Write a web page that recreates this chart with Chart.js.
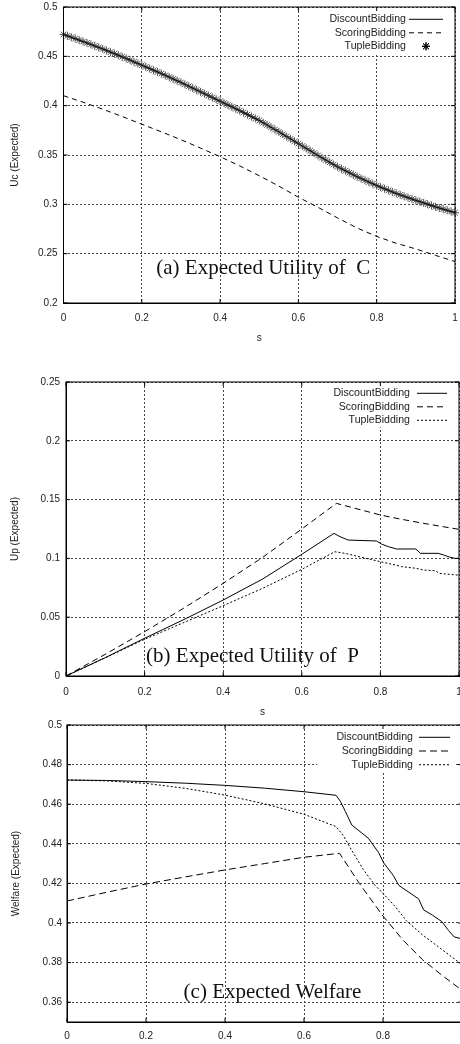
<!DOCTYPE html>
<html>
<head>
<meta charset="utf-8">
<script src="https://cdn.jsdelivr.net/npm/chart.js@4.4.1/dist/chart.umd.min.js"></script>
<style>
  html, body { margin: 0; padding: 0; background: #fff; }
  body { width: 460px; height: 1044px; overflow: hidden; position: relative; }
  canvas { position: absolute; left: 0; }
</style>
</head>
<body>
<canvas id="chartUc" width="460" height="345" style="top:0"></canvas>
<canvas id="chartUp" width="460" height="375" style="top:345px"></canvas>
<canvas id="chartW" width="462" height="324" style="top:720px"></canvas>
<script>
// tick labels
const sTicks = [0, 0.2, 0.4, 0.6, 0.8, 1];
const ucTicks = [0.2, 0.25, 0.3, 0.35, 0.4, 0.45, 0.5];
const upTicks = [0, 0.05, 0.1, 0.15, 0.2, 0.25];
const wTicks = [0.36, 0.38, 0.4, 0.42, 0.44, 0.46, 0.48, 0.5];

const seriesNames = ['DiscountBidding', 'ScoringBidding', 'TupleBidding'];

// (a) expected utility of C
const ucS = [0, 0.05, 0.1, 0.15, 0.2, 0.25, 0.3, 0.35, 0.4, 0.45, 0.5, 0.55, 0.6, 0.65, 0.7, 0.75, 0.8, 0.85, 0.9, 0.95, 1];
const ucDiscount = [0.4722, 0.4650, 0.4575, 0.4495, 0.4410, 0.4325, 0.4235, 0.4140, 0.4045, 0.3950, 0.3850, 0.3735, 0.3615, 0.3495, 0.3380, 0.3280, 0.3190, 0.3110, 0.3040, 0.2975, 0.2915];
const ucScoring = [0.4101, 0.4035, 0.3965, 0.3890, 0.3812, 0.3735, 0.3655, 0.3570, 0.3483, 0.3390, 0.3290, 0.3185, 0.3072, 0.2970, 0.2862, 0.2760, 0.2675, 0.2605, 0.2548, 0.2483, 0.2420];
const ucTupleS = [
  0.00, 0.01, 0.02, 0.03, 0.04, 0.05, 0.06, 0.07, 0.08, 0.09,
  0.10, 0.11, 0.12, 0.13, 0.14, 0.15, 0.16, 0.17, 0.18, 0.19,
  0.20, 0.21, 0.22, 0.23, 0.24, 0.25, 0.26, 0.27, 0.28, 0.29,
  0.30, 0.31, 0.32, 0.33, 0.34, 0.35, 0.36, 0.37, 0.38, 0.39,
  0.40, 0.41, 0.42, 0.43, 0.44, 0.45, 0.46, 0.47, 0.48, 0.49,
  0.50, 0.51, 0.52, 0.53, 0.54, 0.55, 0.56, 0.57, 0.58, 0.59,
  0.60, 0.61, 0.62, 0.63, 0.64, 0.65, 0.66, 0.67, 0.68, 0.69,
  0.70, 0.71, 0.72, 0.73, 0.74, 0.75, 0.76, 0.77, 0.78, 0.79,
  0.80, 0.81, 0.82, 0.83, 0.84, 0.85, 0.86, 0.87, 0.88, 0.89,
  0.90, 0.91, 0.92, 0.93, 0.94, 0.95, 0.96, 0.97, 0.98, 0.99, 1.00];
const ucTuple = [
  0.4722, 0.4708, 0.4694, 0.4680, 0.4665, 0.4650, 0.4636, 0.4621, 0.4606, 0.4590,
  0.4575, 0.4559, 0.4543, 0.4527, 0.4511, 0.4495, 0.4478, 0.4461, 0.4444, 0.4427,
  0.4410, 0.4393, 0.4376, 0.4359, 0.4342, 0.4325, 0.4307, 0.4289, 0.4271, 0.4253,
  0.4235, 0.4216, 0.4197, 0.4178, 0.4159, 0.4140, 0.4121, 0.4102, 0.4083, 0.4064,
  0.4045, 0.4026, 0.4007, 0.3988, 0.3969, 0.3950, 0.3930, 0.3910, 0.3890, 0.3870,
  0.3850, 0.3827, 0.3804, 0.3781, 0.3758, 0.3735, 0.3711, 0.3687, 0.3663, 0.3639,
  0.3615, 0.3591, 0.3567, 0.3543, 0.3519, 0.3495, 0.3472, 0.3449, 0.3426, 0.3403,
  0.3380, 0.3360, 0.3340, 0.3320, 0.3300, 0.3280, 0.3262, 0.3244, 0.3226, 0.3208,
  0.3190, 0.3174, 0.3158, 0.3142, 0.3126, 0.3110, 0.3096, 0.3082, 0.3068, 0.3054,
  0.3040, 0.3027, 0.3014, 0.3001, 0.2988, 0.2975, 0.2963, 0.2951, 0.2939, 0.2927, 0.2915];

// (b) expected utility of P
const upDiscountS = [0, 0.1, 0.2, 0.3, 0.4, 0.5, 0.6, 0.682, 0.697, 0.718, 0.79, 0.803, 0.82, 0.841, 0.89, 0.902, 0.947, 0.96, 0.975, 0.99, 1.0];
const upDiscount = [0, 0.0156, 0.0321, 0.0480, 0.0646, 0.0824, 0.1035, 0.1213, 0.1185, 0.1156, 0.1148, 0.1122, 0.1100, 0.1080, 0.1080, 0.1043, 0.1043, 0.1030, 0.1012, 0.1000, 0.1000];
const upScoringS = [0, 0.1, 0.2, 0.3, 0.4, 0.5, 0.6, 0.688, 0.75, 0.8, 0.85, 0.9, 0.95, 1.0];
const upScoring = [0, 0.0185, 0.0377, 0.0578, 0.0788, 0.1008, 0.1250, 0.1468, 0.1413, 0.1369, 0.1335, 0.1304, 0.1275, 0.1247];
const upTupleS = [0, 0.1, 0.2, 0.3, 0.4, 0.5, 0.6, 0.684, 0.71, 0.8, 0.838, 0.854, 0.89, 0.91, 0.94, 0.95, 0.99, 1.0];
const upTuple = [0, 0.0155, 0.0312, 0.0455, 0.0598, 0.0745, 0.0907, 0.1057, 0.1043, 0.0972, 0.0944, 0.0930, 0.0916, 0.0901, 0.0895, 0.0873, 0.0860, 0.0858];

// (c) expected welfare
const wDiscountS = [0, 0.1, 0.2, 0.3, 0.4, 0.5, 0.6, 0.681, 0.692, 0.705, 0.721, 0.763, 0.789, 0.802, 0.826, 0.84, 0.89, 0.903, 0.925, 0.949, 0.966, 0.98, 1.0];
const wDiscount = [0.4722, 0.4720, 0.4714, 0.4706, 0.4695, 0.4681, 0.4663, 0.4645, 0.4615, 0.4562, 0.4495, 0.4428, 0.4355, 0.4303, 0.4240, 0.4190, 0.4122, 0.4066, 0.4040, 0.4007, 0.3962, 0.3930, 0.3920];
const wScoringS = [0, 0.1, 0.2, 0.3, 0.4, 0.5, 0.6, 0.69, 0.74, 0.8, 0.85, 0.9, 0.95, 1.0];
const wScoring = [0.4111, 0.4155, 0.4197, 0.4233, 0.4268, 0.4300, 0.4332, 0.4352, 0.4200, 0.4035, 0.3915, 0.3815, 0.3735, 0.3660];
const wTupleS = [0, 0.1, 0.2, 0.3, 0.4, 0.5, 0.6, 0.681, 0.70, 0.72, 0.75, 0.78, 0.80, 0.83, 0.86, 0.90, 0.95, 1.0];
const wTuple = [0.4722, 0.4718, 0.4705, 0.4680, 0.4646, 0.4602, 0.4549, 0.4487, 0.4440, 0.4370, 0.4270, 0.4190, 0.4150, 0.4085, 0.4010, 0.3940, 0.3865, 0.3790];

Chart.defaults.font.family = '"Liberation Sans", Arial, sans-serif';
Chart.defaults.color = '#222';

const pts = (xs, ys) => xs.map((x, i) => ({ x: x, y: ys[i] }));
const fmt = (v) => String(+Number(v).toFixed(3));

// gnuplot style key drawn inside the plot, white box hides the grid behind it
const keyPlugin = {
  id: 'gnuKey',
  beforeDatasetsDraw(chart, args, opts) {
    const ctx = chart.ctx;
    const area = chart.chartArea;
    const textRight = area.right - opts.textRight;
    const rows = chart.data.datasets.length;
    ctx.save();
    ctx.fillStyle = '#fff';
    ctx.fillRect(area.left + opts.boxLeft, area.top + 1, area.right - opts.boxRight - area.left - opts.boxLeft,
      opts.firstRow + opts.rowGap * (rows - 1) + 6);
    ctx.font = opts.fontSize + 'px "Liberation Sans", Arial, sans-serif';
    ctx.textAlign = 'right';
    ctx.textBaseline = 'middle';
    chart.data.datasets.forEach((ds, i) => {
      const y = area.top + opts.firstRow + i * opts.rowGap;
      ctx.fillStyle = '#222';
      ctx.fillText(ds.label, textRight, y);
      const x0 = area.right - opts.sampleStart;
      const x1 = area.right - opts.sampleEnd;
      if (ds.showLine === false) {
        Chart.helpers.drawPoint(ctx, { pointStyle: ds.pointStyle, radius: ds.pointRadius, borderWidth: 1 }, (x0 + x1) / 2, y);
        ctx.strokeStyle = '#000';
        ctx.lineWidth = 1;
        ctx.stroke();
      } else {
        ctx.strokeStyle = '#000';
        ctx.lineWidth = 1;
        ctx.setLineDash(ds.borderDash || []);
        ctx.beginPath();
        ctx.moveTo(x0, y);
        ctx.lineTo(x1, y);
        ctx.stroke();
        ctx.setLineDash([]);
      }
    });
    ctx.restore();
  }
};

// closed border with inward tick marks
const framePlugin = {
  id: 'frame',
  afterDraw(chart) {
    const ctx = chart.ctx;
    const a = chart.chartArea;
    const xs = chart.scales.x;
    const ys = chart.scales.y;
    ctx.save();
    ctx.strokeStyle = '#000';
    ctx.lineWidth = 1;
    ctx.strokeRect(a.left, a.top, a.right - a.left, a.bottom - a.top);
    ctx.beginPath();
    xs.ticks.forEach(t => {
      const px = xs.getPixelForValue(t.value);
      ctx.moveTo(px, a.bottom); ctx.lineTo(px, a.bottom - 4);
      ctx.moveTo(px, a.top); ctx.lineTo(px, a.top + 4);
    });
    ys.ticks.forEach(t => {
      const py = ys.getPixelForValue(t.value);
      ctx.moveTo(a.left, py); ctx.lineTo(a.left + 4, py);
      ctx.moveTo(a.right, py); ctx.lineTo(a.right - 4, py);
    });
    ctx.stroke();
    ctx.restore();
  }
};

// panel caption in serif type
const captionPlugin = {
  id: 'caption',
  afterDatasetsDraw(chart, args, opts) {
    const ctx = chart.ctx;
    const a = chart.chartArea;
    ctx.save();
    ctx.font = opts.size + 'px "Liberation Serif", "Times New Roman", serif';
    ctx.fillStyle = '#111';
    ctx.textAlign = 'center';
    ctx.textBaseline = 'alphabetic';
    ctx.fillText(opts.text, (a.left + a.right) / 2 + opts.dx, a.top + opts.baseline);
    ctx.restore();
  }
};

const lineSet = (label, data, dash) => ({
  label: label,
  data: data,
  borderColor: '#000',
  borderWidth: 1,
  borderDash: dash,
  pointRadius: 0,
  fill: false,
  tension: 0
});

const makePanel = (id, datasets, p) => new Chart(document.getElementById(id), {
  type: 'line',
  data: { datasets: datasets },
  options: {
    responsive: false,
    animation: false,
    layout: { padding: { top: p.padTop, right: p.padRight, left: 0, bottom: 0 } },
    scales: {
      x: {
        type: 'linear',
        min: 0,
        max: 1,
        afterBuildTicks: (s) => { s.ticks = sTicks.map(v => ({ value: v })); },
        afterFit: (s) => { s.height = p.xHeight; s.paddingLeft = 0; s.paddingRight = 0; },
        ticks: { padding: p.xTickPad, font: { size: 10 }, callback: fmt, maxRotation: 0, autoSkip: false },
        grid: { color: '#444', lineWidth: 1, drawTicks: false },
        border: { display: true, color: '#000', width: 1, dash: [2, 2] },
        title: { display: p.showS, text: 's', font: { size: 10 }, padding: { top: 0, bottom: p.sPad } }
      },
      y: {
        type: 'linear',
        min: p.yMin,
        max: p.yMax,
        afterBuildTicks: (s) => { s.ticks = p.yTicks.map(v => ({ value: v })); },
        afterFit: (s) => { s.width = p.yWidth; s.paddingTop = 0; s.paddingBottom = 0; },
        ticks: { padding: p.yTickPad, font: { size: 10 }, callback: fmt, autoSkip: false },
        grid: { color: '#444', lineWidth: 1, drawTicks: false },
        border: { display: true, color: '#000', width: 1, dash: [2, 2] },
        title: { display: true, text: p.yTitle, font: { size: 10 }, padding: { top: p.yTitlePad, bottom: 0 } }
      }
    },
    plugins: {
      legend: { display: false },
      tooltip: { enabled: false },
      gnuKey: p.key,
      caption: p.caption
    }
  },
  plugins: [keyPlugin, captionPlugin, framePlugin]
});

// (a)
makePanel('chartUc', [
  lineSet(seriesNames[0], pts(ucS, ucDiscount), []),
  lineSet(seriesNames[1], pts(ucS, ucScoring), [5, 4]),
  {
    label: seriesNames[2],
    data: pts(ucTupleS, ucTuple),
    showLine: false,
    pointStyle: 'star',
    pointRadius: 4,
    pointBorderColor: '#555',
    pointBackgroundColor: '#555',
    pointBorderWidth: 1,
    clip: 6
  }
], {
  padTop: 7, padRight: 1, xHeight: 42, yWidth: 63.5, xTickPad: 9, yTickPad: 6, sPad: 1, showS: true,
  yMin: 0.2, yMax: 0.5, yTicks: ucTicks, yTitle: 'Uc (Expected)', yTitlePad: 9,
  key: { textRight: 49, sampleStart: 46, sampleEnd: 12, firstRow: 12.3, rowGap: 13.5, fontSize: 10.6, boxLeft: 250, boxRight: 4 },
  caption: { text: '(a) Expected Utility of  C', size: 21, dx: 4, baseline: 267 }
});

// (b)
makePanel('chartUp', [
  lineSet(seriesNames[0], pts(upDiscountS, upDiscount), []),
  lineSet(seriesNames[1], pts(upScoringS, upScoring), [6, 4]),
  lineSet(seriesNames[2], pts(upTupleS, upTuple), [2, 2])
], {
  padTop: 37, padRight: 1, xHeight: 44, yWidth: 66, xTickPad: 10, yTickPad: 6, sPad: 2, showS: true,
  yMin: 0, yMax: 0.25, yTicks: upTicks, yTitle: 'Up (Expected)', yTitlePad: 9,
  key: { textRight: 49, sampleStart: 42, sampleEnd: 12, firstRow: 11.3, rowGap: 13.5, fontSize: 10.6, boxLeft: 250, boxRight: 4 },
  caption: { text: '(b) Expected Utility of  P', size: 21, dx: -10, baseline: 280 }
});

// (c)
makePanel('chartW', [
  lineSet(seriesNames[0], pts(wDiscountS, wDiscount), []),
  lineSet(seriesNames[1], pts(wScoringS, wScoring), [7, 4]),
  lineSet(seriesNames[2], pts(wTupleS, wTuple), [2, 2])
], {
  padTop: 5, padRight: 0, xHeight: 22, yWidth: 67, xTickPad: 8, yTickPad: 5, sPad: 0, showS: false,
  yMin: 0.35, yMax: 0.5, yTicks: wTicks, yTitle: 'Welfare (Expected)', yTitlePad: 10,
  key: { textRight: 49, sampleStart: 43, sampleEnd: 12, firstRow: 12.3, rowGap: 13.7, fontSize: 10.6, boxLeft: 250, boxRight: 7 },
  caption: { text: '(c) Expected Welfare', size: 21, dx: 8, baseline: 273 }
});
</script>
</body>
</html>
